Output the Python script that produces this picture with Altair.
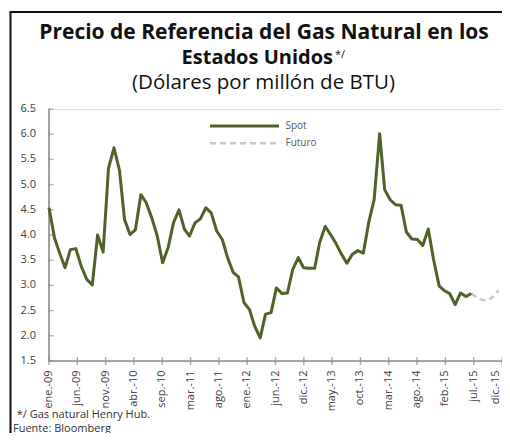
import altair as alt
import pandas as pd

# ---- data ----
spot = [4.54, 3.94, 3.65, 3.35, 3.71, 3.73, 3.38, 3.12, 3.01, 4.00, 3.66, 5.32,
        5.73, 5.28, 4.31, 4.01, 4.10, 4.80, 4.64, 4.34, 3.98, 3.45, 3.75, 4.24,
        4.50, 4.11, 3.98, 4.24, 4.32, 4.54, 4.44, 4.08, 3.91, 3.55, 3.26, 3.17,
        2.66, 2.52, 2.19, 1.96, 2.43, 2.46, 2.95, 2.84, 2.85, 3.32, 3.55, 3.35,
        3.34, 3.34, 3.85, 4.17, 4.01, 3.83, 3.62, 3.44, 3.62, 3.69, 3.64, 4.24,
        4.70, 6.01, 4.90, 4.70, 4.60, 4.59, 4.06, 3.92, 3.91, 3.79, 4.12, 3.51,
        2.99, 2.89, 2.84, 2.62, 2.85, 2.78, 2.84]
spot_start = "2009-01-01"
futuro = [2.84, 2.76, 2.71, 2.70, 2.78, 2.90]
futuro_start = "2015-07-01"

tick_labels = ["ene.-09", "jun.-09", "nov.-09", "abr.-10", "sep.-10", "mar.-11",
               "ago.-11", "ene.-12", "jun.-12", "dic.-12", "may.-13", "oct.-13",
               "mar.-14", "ago.-14", "feb.-15", "jul.-15", "dic.-15"]
tick_step_days = 159
y_ticks = [1.5, 2.0, 2.5, 3.0, 3.5, 4.0, 4.5, 5.0, 5.5, 6.0, 6.5]

title_1 = "Precio de Referencia del Gas Natural en los"
title_2 = "Estados Unidos"
title_sup = "*/"
title_3 = "(Dólares por millón de BTU)"
note_1 = "*/ Gas natural Henry Hub."
note_2 = "Fuente: Bloomberg"
series_names = ["Spot", "Futuro"]

# ---- tables ----
spot_df = pd.DataFrame({
    "fecha": pd.date_range(spot_start, periods=len(spot), freq="MS").strftime("%Y-%m-%d"),
    "valor": spot})
fut_df = pd.DataFrame({
    "fecha": pd.date_range(futuro_start, periods=len(futuro), freq="MS").strftime("%Y-%m-%d"),
    "valor": futuro})
tick_dates = pd.date_range(spot_start, periods=len(tick_labels), freq=f"{tick_step_days}D")
ticks_df = pd.DataFrame({"fecha": tick_dates.strftime("%Y-%m-%d"),
                         "valor": [y_ticks[0]] * len(tick_labels),
                         "label": tick_labels})
yt_df = pd.DataFrame({"valor": y_ticks, "label": [f"{v:.1f}" for v in y_ticks]})

W, H = 453, 252
FONT = "Open Sans"
GREEN = "#4f6228"
GREY_AX = "#8c8c8c"
LABEL = "#404040"

x_scale = alt.Scale(type="time",
                    domain=[tick_dates[0].strftime("%Y-%m-%d"), tick_dates[-1].strftime("%Y-%m-%d")])
y_scale = alt.Scale(domain=[y_ticks[0], y_ticks[-1]], nice=False, zero=False)

X = alt.X("fecha:T", scale=x_scale, axis=None)
Y = alt.Y("valor:Q", scale=y_scale, axis=None)

# axis lines
ax_df = pd.DataFrame({"a": [0]})
x_domain = alt.Chart(ax_df).mark_rule(color=GREY_AX, strokeWidth=1.6).encode(
    x=alt.value(0), x2=alt.value(W), y=alt.value(H))
y_domain = alt.Chart(ax_df).mark_rule(color=GREY_AX, strokeWidth=1.6).encode(
    x=alt.value(0), y=alt.value(0), y2=alt.value(H))

x_ticks = alt.Chart(ticks_df).mark_tick(orient="vertical", size=8, thickness=1.4, color=GREY_AX).encode(x=X, y=Y)
y_tick_marks = alt.Chart(yt_df).mark_tick(orient="horizontal", size=5, thickness=1.4, color=GREY_AX).encode(
    x=alt.value(2), y=Y)

last_label = tick_labels[-1]
x_labels = alt.Chart(ticks_df).mark_text(
    angle=270, align="right", baseline="middle", font=FONT, fontSize=11, color=LABEL,
    dy=alt.ExprRef(f"datum.label == '{last_label}' ? -6 : 0")
).encode(x=X, y=alt.value(H + 9.5), text="label:N")
y_labels = alt.Chart(yt_df).mark_text(
    align="right", baseline="middle", font=FONT, fontSize=11, color=LABEL
).encode(x=alt.value(-13), y=Y, text="label:N")

spot_line = alt.Chart(spot_df).mark_line(color=GREEN, strokeWidth=3, strokeJoin="round").encode(x=X, y=Y)
fut_line = alt.Chart(fut_df).mark_line(color="#c8c8c8", strokeWidth=2.5, strokeDash=[6, 4]).encode(x=X, y=Y)


def text_layer(txt, x, y, size, weight="normal", align="left", color="#000000", baseline="alphabetic"):
    return alt.Chart(pd.DataFrame({"t": [txt]})).mark_text(
        font=FONT, fontSize=size, fontWeight=weight, align=align, baseline=baseline, color=color
    ).encode(text="t:N", x=alt.value(x), y=alt.value(y))


titles = [
    text_layer(title_1, 215, -70.5, 21, "bold", "center", "#111111"),
    text_layer(title_2, 284, -45, 20, "bold", "right", "#111111"),
    text_layer(title_sup, 286, -51.5, 11, "normal", "left", "#111111"),
    text_layer(title_3, 214.5, -20.5, 20.5, "normal", "center", "#111111"),
    text_layer(note_1, -32.3, 308.5, 11, "normal", "left", "#333333"),
    text_layer(note_2, -36, 322.5, 11, "normal", "left", "#333333"),
]

leg_df = pd.DataFrame({"serie": series_names})
legend_spot = alt.Chart(leg_df.iloc[[0]]).mark_rule(color=GREEN, strokeWidth=3).encode(
    x=alt.value(161), x2=alt.value(230), y=alt.value(17))
legend_fut = alt.Chart(leg_df.iloc[[1]]).mark_rule(color="#c8c8c8", strokeWidth=2.5, strokeDash=[6, 4]).encode(
    x=alt.value(161), x2=alt.value(230), y=alt.value(34.3))
legend_txt_spot = text_layer(series_names[0], 236.5, 17, 10, "normal", "left", "#595959", "middle")
legend_txt_fut = text_layer(series_names[1], 236.5, 34.3, 10, "normal", "left", "#595959", "middle")

border_df = pd.DataFrame({"b": [0]})
border_left = alt.Chart(border_df).mark_rule(color="#111111", strokeWidth=2).encode(
    x=alt.value(-38.5), y=alt.value(-97), y2=alt.value(H + 72))
border_top = alt.Chart(border_df).mark_rule(color="#111111", strokeWidth=2).encode(
    x=alt.value(-39.5), x2=alt.value(W), y=alt.value(-97))

chart = alt.layer(
    border_left, border_top,
    *titles,
    x_domain, y_domain, x_ticks, y_tick_marks, x_labels, y_labels,
    fut_line, spot_line,
    legend_spot, legend_fut, legend_txt_spot, legend_txt_fut,
).properties(
    width=W, height=H,
    autosize=alt.AutoSizeParams(type="none"),
    padding={"left": 41, "top": 101, "right": 0, "bottom": 72},
).configure_view(strokeWidth=0).configure(background="white")

chart.save("out.html", embed_options={"renderer": "svg", "actions": False})
